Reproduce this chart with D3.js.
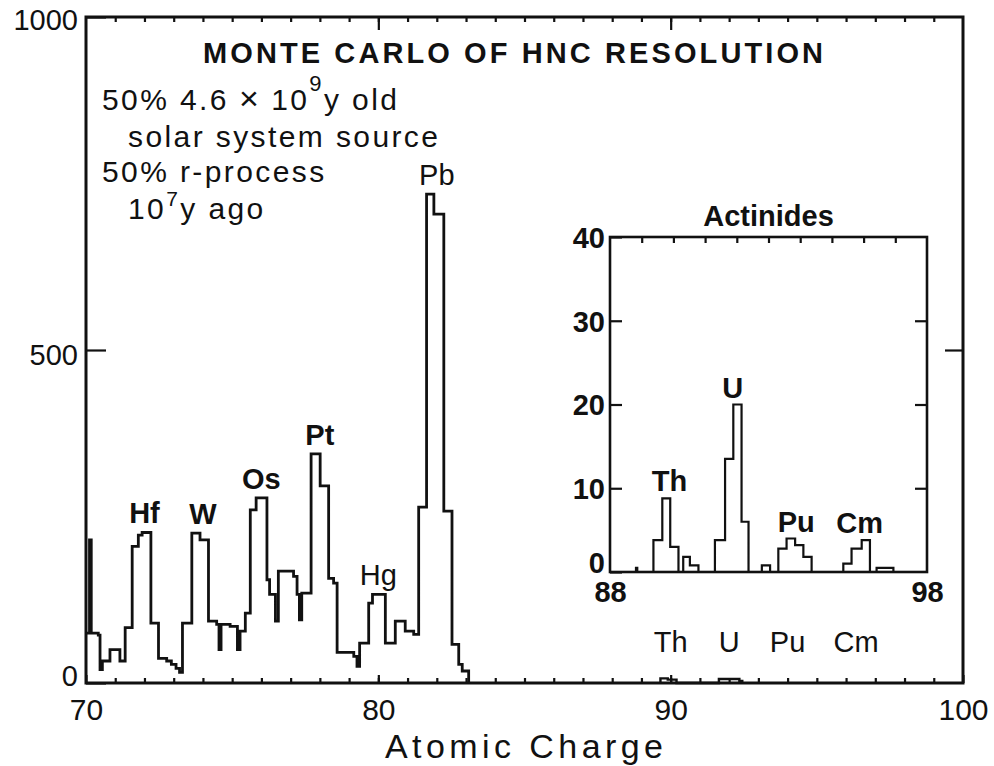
<!DOCTYPE html>
<html>
<head>
<meta charset="utf-8">
<script src="https://cdn.jsdelivr.net/npm/d3@7"></script>
<style>
  html, body { margin: 0; padding: 0; background: #fff; }
  svg { display: block; font-family: "Liberation Sans", Arial, Helvetica, sans-serif; }
</style>
</head>
<body>
<svg id="chart" width="994" height="766"></svg>
<script>
// Simulated charge histogram, Z = 70 .. 83: left bin edges and counts
const mainEdges = [
  70.00, 70.12, 70.18, 70.42, 70.48, 70.56, 70.82, 71.16, 71.34, 71.58,
  71.79, 71.92, 72.22, 72.48, 72.76, 72.92, 73.08, 73.20, 73.30, 73.62,
  73.90, 74.19, 74.47, 74.55, 74.62, 74.93, 75.18, 75.27, 75.45, 75.62,
  75.82, 76.19, 76.28, 76.48, 76.58, 77.10, 77.22, 77.30, 77.38, 77.70,
  78.01, 78.30, 78.47, 78.59, 79.16, 79.27, 79.36, 79.67, 79.80, 80.24,
  80.58, 80.92, 81.21, 81.38, 81.65, 81.90, 82.24, 82.52, 82.75, 82.87
];
const mainCounts = [
  75, 215, 75, 72, 20, 33, 50, 33, 83, 205,
  222, 226, 90, 37, 33, 28, 22, 16, 90, 225,
  215, 93, 88, 50, 88, 85, 50, 78, 105, 260,
  278, 155, 133, 93, 168, 160, 133, 95, 135, 344,
  296, 157, 150, 46, 40, 25, 60, 120, 133, 60,
  93, 78, 73, 264, 734, 704, 258, 58, 28, 18
];
const mainEndZ = 83.09;

// Faint actinide bumps as they appear on the full-range panel
const mainActEdges = [89.65, 89.90, 90.20, 91.65, 92.35];
const mainActCounts = [7, 5, 0, 6, 3];
const mainActEndZ = 92.45;

// Actinide histogram, Z = 88 .. 98
const actEdges = [
  88.00, 88.82, 88.86, 89.37, 89.65, 89.90, 90.16, 90.31, 90.52, 90.79,
  91.31, 91.63, 91.89, 92.15, 92.37, 92.79, 93.05, 93.31, 93.57, 93.84,
  94.10, 94.36, 95.36, 95.62, 95.94, 96.20, 96.41, 96.94
];
const actCounts = [
  0, 0.5, 0, 3.8, 8.8, 3.0, 0, 1.8, 0.8, 0,
  3.8, 13.5, 20, 6.0, 0, 0.8, 0, 2.8, 4.0, 3.2,
  1.8, 0, 1.0, 2.8, 3.8, 0, 0.5, 0
];
const actEndZ = 98;

// Element labels
const peakNames = ["Hf", "W", "Os", "Pt", "Hg", "Pb"];
const peakZ = [72, 74, 76, 78, 80, 82];
const actNames = ["Th", "U", "Pu", "Cm"];
const actZ = [90, 92, 94, 96];

// Axis ticks
const mainXLabels = [70, 80, 90, 100];
const mainXMinor = d3.range(71, 100);
const mainYLabels = [0, 500, 1000];
const actXLabels = [88, 98];
const actXMinor = d3.range(89, 98);
const actYLabels = [0, 10, 20, 30, 40];

const titleText = "MONTE CARLO OF HNC RESOLUTION";
const xTitle = "Atomic Charge";
const insetTitle = "Actinides";

// ---------------------------------------------------------------
const svg = d3.select("#chart");
const ink = "#111";

const main = { left: 86, right: 963, top: 17, bottom: 683 };
const inset = { left: 610, right: 927, top: 237, bottom: 572 };

const xMain = d3.scaleLinear().domain([70, 100]).range([main.left, main.right]);
const yMain = d3.scaleLinear().domain([0, 1000]).range([main.bottom, main.top]);
const xAct = d3.scaleLinear().domain([88, 98]).range([inset.left, inset.right]);
const yAct = d3.scaleLinear().domain([0, 40]).range([inset.bottom, inset.top]);

function stepPoints(edges, counts, endZ, fromZero) {
  const pts = fromZero ? [[edges[0], 0]] : [];
  edges.forEach((e, i) => pts.push([e, counts[i]]));
  pts.push([endZ, 0]);
  return pts;
}
function stepPath(x, y) {
  return d3.line().x(d => x(d[0])).y(d => y(d[1])).curve(d3.curveStepAfter);
}
function peakCount(edges, counts, z, half) {
  let m = 0;
  edges.forEach((e, i) => {
    const e2 = i + 1 < edges.length ? edges[i + 1] : e;
    if (e2 > z - half && e < z + half) m = Math.max(m, counts[i]);
  });
  return m;
}
function styleAxis(g, size, weight) {
  g.select(".domain").remove();
  g.attr("font-family", null).attr("font-size", null);
  g.selectAll(".tick line").attr("stroke", ink).attr("stroke-width", 2.2);
  g.selectAll(".tick text")
    .attr("fill", ink)
    .style("font-size", size + "px")
    .style("font-weight", weight);
}

// ---------------- main panel ----------------
const gm = svg.append("g");

// bottom ticks
gm.append("g").attr("transform", `translate(0,${main.bottom})`)
  .call(d3.axisBottom(xMain).tickValues(mainXMinor).tickSizeInner(-5).tickSizeOuter(0).tickFormat(""))
  .call(g => styleAxis(g, 30, "normal"));
gm.append("g").attr("transform", `translate(0,${main.bottom})`)
  .call(d3.axisBottom(xMain).tickValues(mainXLabels).tickSizeInner(-8).tickSizeOuter(0).tickPadding(16))
  .call(g => styleAxis(g, 30, "normal"));
// top ticks
gm.append("g").attr("transform", `translate(0,${main.top})`)
  .call(d3.axisTop(xMain).tickValues(mainXMinor).tickSizeInner(-5).tickSizeOuter(0).tickFormat(""))
  .call(g => styleAxis(g, 30, "normal"));
gm.append("g").attr("transform", `translate(0,${main.top})`)
  .call(d3.axisTop(xMain).tickValues([80, 90]).tickSizeInner(-13).tickSizeOuter(0).tickFormat(""))
  .call(g => styleAxis(g, 30, "normal"));
// left / right ticks
gm.append("g").attr("transform", `translate(${main.left},0)`)
  .call(d3.axisLeft(yMain).tickValues(mainYLabels).tickSizeInner(-20).tickSizeOuter(0)
    .tickPadding(8).tickFormat(d3.format("d")))
  .call(g => styleAxis(g, 29, "normal"))
  .call(g => g.selectAll(".tick text").attr("dy", d => d === 0 ? "0.1em" : (d === 500 ? "0.5em" : "0.42em")));
gm.append("g").attr("transform", `translate(${main.right},0)`)
  .call(d3.axisRight(yMain).tickValues([500]).tickSizeInner(-18).tickSizeOuter(0).tickFormat(""))
  .call(g => styleAxis(g, 30, "normal"));

// frame
gm.append("rect")
  .attr("x", main.left).attr("y", main.top)
  .attr("width", main.right - main.left).attr("height", main.bottom - main.top)
  .attr("fill", "none").attr("stroke", ink).attr("stroke-width", 3);

// histogram
gm.append("path")
  .attr("d", stepPath(xMain, yMain)(stepPoints(mainEdges, mainCounts, mainEndZ, false)))
  .attr("fill", "none").attr("stroke", ink).attr("stroke-width", 2.8)
  .attr("stroke-linejoin", "miter");
gm.append("path")
  .attr("d", stepPath(xMain, yMain)(stepPoints(mainActEdges, mainActCounts, mainActEndZ, true)))
  .attr("fill", "none").attr("stroke", ink).attr("stroke-width", 2.4);

// element labels above peaks
const boldPeaks = new Set(["Hf", "W", "Os", "Pt"]);
gm.selectAll("text.peak").data(peakNames).join("text")
  .attr("class", "peak")
  .attr("x", (d, i) => xMain(peakZ[i]))
  .attr("y", (d, i) => yMain(peakCount(mainEdges, mainCounts, peakZ[i], 0.6)) - 9)
  .attr("text-anchor", "middle")
  .style("font-size", "29px")
  .style("font-weight", d => boldPeaks.has(d) ? "bold" : "normal")
  .attr("fill", ink)
  .text(d => d);

gm.selectAll("text.actmain").data(actNames).join("text")
  .attr("class", "actmain")
  .attr("x", (d, i) => xMain(actZ[i]) + (d === "Cm" ? 10 : 0))
  .attr("y", yMain(0) - 31)
  .attr("text-anchor", "middle")
  .style("font-size", "29px")
  .attr("fill", ink)
  .text(d => d);

// title
gm.append("text")
  .attr("x", 203).attr("y", 63)
  .attr("textLength", 620).attr("lengthAdjust", "spacing")
  .style("font-size", "29px").style("font-weight", "bold")
  .attr("fill", ink)
  .text(titleText);

// source composition note
const note = gm.append("g").attr("fill", ink).style("font-size", "30px").style("letter-spacing", "2.4px");
const l1 = note.append("text").attr("x", 102).attr("y", 110);
l1.append("tspan").text("50% 4.6");
l1.append("tspan").attr("dx", 10).style("font-size", "34px").text("\u00D7");
l1.append("tspan").attr("dx", 10).text("10");
l1.append("tspan").attr("dy", -19).style("font-size", "22px").text("9");
l1.append("tspan").attr("dy", 19).text("y old");
note.append("text").attr("x", 128).attr("y", 147).text("solar system source");
note.append("text").attr("x", 102).attr("y", 182).text("50% r-process");
const l4 = note.append("text").attr("x", 128).attr("y", 219);
l4.append("tspan").text("10");
l4.append("tspan").attr("dy", -13).style("font-size", "21px").text("7");
l4.append("tspan").attr("dy", 13).text("y ago");

// x-axis title
gm.append("text")
  .attr("x", 385).attr("y", 758)
  .attr("textLength", 278).attr("lengthAdjust", "spacing")
  .style("font-size", "34px")
  .attr("fill", ink)
  .text(xTitle);

// ---------------- actinide inset ----------------
const gi = svg.append("g");

gi.append("rect")
  .attr("x", inset.left).attr("y", inset.top)
  .attr("width", inset.right - inset.left).attr("height", inset.bottom - inset.top)
  .attr("fill", "#fff").attr("stroke", "none");

gi.append("g").attr("transform", `translate(0,${inset.top})`)
  .call(d3.axisTop(xAct).tickValues(actXMinor).tickSizeInner(-6).tickSizeOuter(0).tickFormat(""))
  .call(g => styleAxis(g, 30, "bold"));
gi.append("g").attr("transform", `translate(0,${inset.bottom})`)
  .call(d3.axisBottom(xAct).tickValues(actXLabels).tickSizeInner(0).tickSizeOuter(0).tickPadding(9))
  .call(g => styleAxis(g, 29, "bold"));
gi.append("g").attr("transform", `translate(${inset.left},0)`)
  .call(d3.axisLeft(yAct).tickValues(actYLabels).tickSizeInner(-12).tickSizeOuter(0).tickPadding(5))
  .call(g => styleAxis(g, 29, "bold"))
  .call(g => g.selectAll(".tick text").attr("dy", d => d === 0 ? "0.0em" : "0.36em"));
gi.append("g").attr("transform", `translate(${inset.right},0)`)
  .call(d3.axisRight(yAct).tickValues([10, 20, 30]).tickSizeInner(-12).tickSizeOuter(0).tickFormat(""))
  .call(g => styleAxis(g, 29, "bold"));

gi.append("rect")
  .attr("x", inset.left).attr("y", inset.top)
  .attr("width", inset.right - inset.left).attr("height", inset.bottom - inset.top)
  .attr("fill", "none").attr("stroke", ink).attr("stroke-width", 2.6);

gi.append("path")
  .attr("d", stepPath(xAct, yAct)(stepPoints(actEdges, actCounts, actEndZ, true)))
  .attr("fill", "none").attr("stroke", ink).attr("stroke-width", 2.2);

gi.selectAll("text.act").data(actNames).join("text")
  .attr("class", "act")
  .attr("x", (d, i) => xAct(actZ[i]) - 4)
  .attr("y", (d, i) => yAct(peakCount(actEdges, actCounts, actZ[i], 0.7)) - 7)
  .attr("text-anchor", "middle")
  .style("font-size", "29px").style("font-weight", "bold")
  .attr("fill", ink)
  .text(d => d);

gi.append("text")
  .attr("x", (inset.left + inset.right) / 2).attr("y", inset.top - 11)
  .attr("text-anchor", "middle")
  .style("font-size", "29px").style("font-weight", "bold")
  .attr("fill", ink)
  .text(insetTitle);
</script>
</body>
</html>
